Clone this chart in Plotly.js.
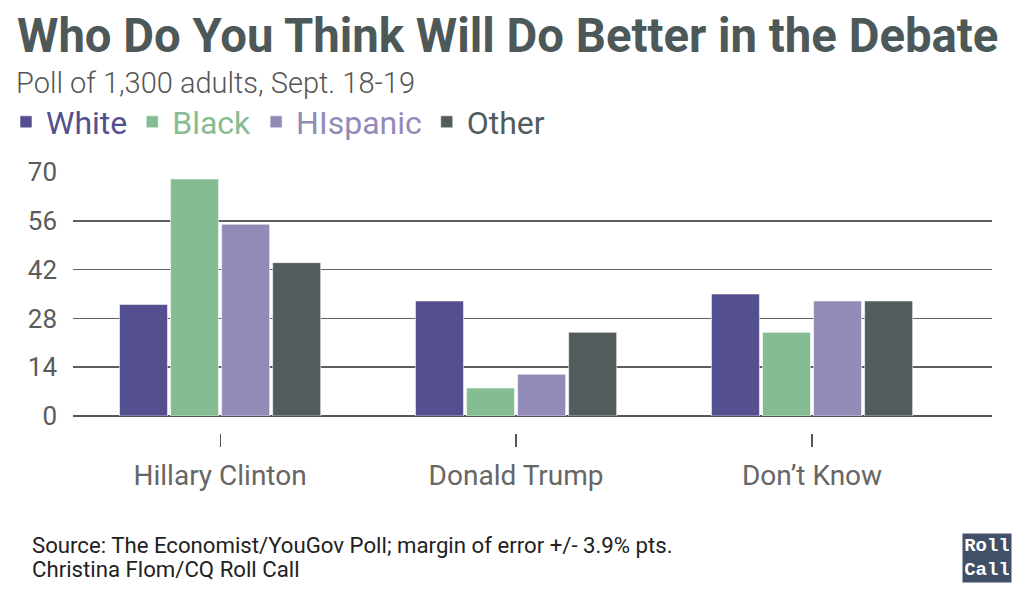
<!DOCTYPE html>
<html>
<head>
<meta charset="utf-8">
<script src="https://cdn.plot.ly/plotly-3.0.1.min.js"></script>
<style>
html,body{margin:0;padding:0;background:#fff;}
#chart{width:1024px;height:592px;}
</style>
</head>
<body>
<div id="chart"></div>
<script>
// ---- data ----
const categories = ["Hillary Clinton", "Donald Trump", "Don\u2019t Know"];
const seriesNames = ["White", "Black", "HIspanic", "Other"];
const whiteVals = [32, 33, 35];
const blackVals = [68, 8, 24];
const hispanicVals = [55, 12, 33];
const otherVals = [44, 24, 33];
const yTicks = [0, 14, 28, 42, 56, 70];

const seriesValues = [whiteVals, blackVals, hispanicVals, otherVals];
const colors = ["#544F8F", "#86BC91", "#938BB7", "#525C5D"];

// plot area in pixels
const L = 73, R = 992, T = 172, B = 433;
const W = 1024, H = 592;
const px = x => (x - L) / (R - L);
const py = y => (B - y) / (B - T);

const traces = seriesNames.map((n, i) => ({
  type: "bar",
  x: categories,
  y: seriesValues[i],
  name: '<span style="color:' + colors[i] + '">' + n + '</span>',
  marker: {color: colors[i], line: {color: "rgba(255,255,255,0.55)", width: 1}},
  hoverinfo: "skip"
}));

const font = "Roboto, 'Open Sans', sans-serif";

const layout = {
  width: W, height: H,
  margin: {l: L, r: W - R, t: T, b: H - B, pad: 0, autoexpand: false},
  paper_bgcolor: "#fff",
  plot_bgcolor: "#fff",
  barmode: "group",
  bargap: 0.31,
  bargroupgap: 0.06,
  showlegend: true,
  legend: {
    orientation: "h",
    x: px(6), xanchor: "left",
    y: py(122), yanchor: "middle",
    font: {family: font, size: 32, color: "#555"},
    itemwidth: 30,
    traceorder: "normal",
    bgcolor: "rgba(0,0,0,0)"
  },
  title: {
    text: "Who Do You Think Will Do Better in the Debate",
    font: {family: font, size: 47.3, weight: 700, color: "#4d5859"},
    x: 17 / W, xanchor: "left", xref: "container",
    y: 1 - 19 / H, yanchor: "top", yref: "container"
  },
  xaxis: {
    type: "category",
    range: [-0.497, 2.608],
    anchor: "free",
    position: 0,
    showgrid: false,
    zeroline: false,
    showline: false,
    ticks: "outside",
    ticklen: 13,
    tickwidth: 1.2,
    tickcolor: "#555",
    ticklabelstandoff: 4,
    tickfont: {family: font, size: 28, color: "#666"}
  },
  yaxis: {
    domain: [(B - 416) / (B - T), 1],
    range: [0, 70],
    tickvals: yTicks,
    ticktext: yTicks.map(String),
    showgrid: true,
    gridcolor: "#5e5e5e",
    gridwidth: 1.5,
    zeroline: true,
    zerolinecolor: "#555",
    zerolinewidth: 2.5,
    showline: false,
    ticks: "",
    ticklabelstandoff: 15,
    tickfont: {family: font, size: 26, color: "#5b5b5b"}
  },
  annotations: [
    {
      text: "Poll of 1,300 adults, Sept. 18-19",
      xref: "paper", yref: "paper",
      x: px(15), y: py(83), xanchor: "left", yanchor: "middle",
      showarrow: false,
      borderpad: 0,
      font: {family: font, size: 29, weight: 300, color: "#555"}
    },
    {
      text: "Source: The Economist/YouGov Poll; margin of error +/- 3.9% pts.",
      xref: "paper", yref: "paper",
      x: px(30), y: py(545), xanchor: "left", yanchor: "middle",
      showarrow: false,
      font: {family: font, size: 22.2, color: "#222"}
    },
    {
      text: "Christina Flom/CQ Roll Call",
      xref: "paper", yref: "paper",
      x: px(30), y: py(569), xanchor: "left", yanchor: "middle",
      showarrow: false,
      font: {family: font, size: 22.2, color: "#222"}
    },
    {
      text: "<b>Roll<br>Call</b>",
      xref: "paper", yref: "paper",
      x: px(987), y: py(558), xanchor: "center", yanchor: "middle",
      showarrow: false,
      width: 44, height: 44,
      bgcolor: "#3f5068",
      borderpad: 2,
      align: "center",
      font: {family: "'Liberation Mono', 'DejaVu Sans Mono', monospace", size: 19, weight: 700, color: "#fff"}
    }
  ]
};

Plotly.newPlot("chart", traces, layout, {displayModeBar: false, staticPlot: true});
</script>
</body>
</html>
